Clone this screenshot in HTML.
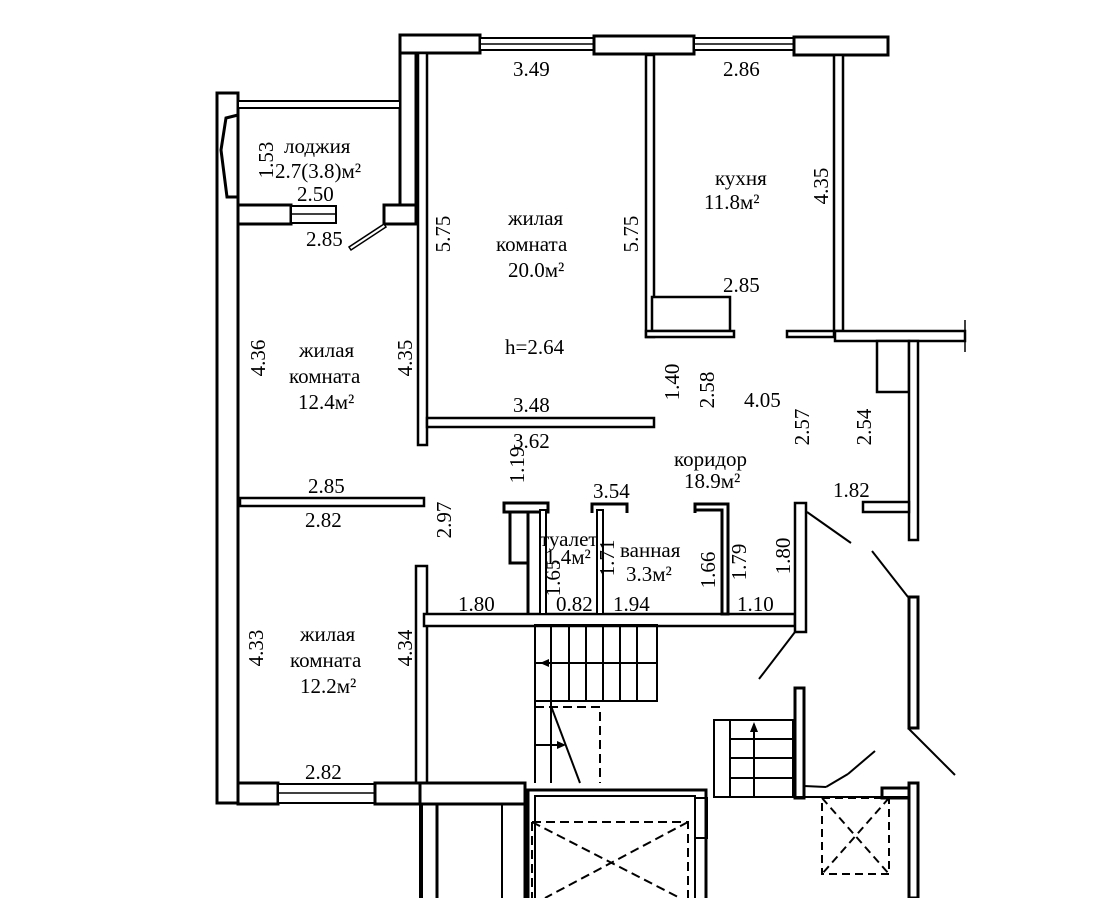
<!DOCTYPE html>
<html><head><meta charset="utf-8"><style>
html,body{margin:0;padding:0;background:#fff;}
svg{display:block}
text{font-family:"Liberation Serif","DejaVu Serif",serif;font-size:21px;fill:#000;}
</style></head><body>
<svg width="1118" height="898" viewBox="0 0 1118 898" xmlns="http://www.w3.org/2000/svg">
<g fill="#fff" stroke="#000" stroke-width="3">
<rect x="400" y="35" width="80" height="18"/>
<rect x="480" y="38" width="114" height="12" stroke-width="2"/>
<line x1="480" y1="44" x2="594" y2="44" stroke-width="1.5"/>
<rect x="594" y="36" width="100" height="18"/>
<rect x="694" y="38" width="100" height="12" stroke-width="2"/>
<line x1="694" y1="44" x2="794" y2="44" stroke-width="1.5"/>
<rect x="794" y="37" width="94" height="18"/>
<rect x="400" y="53" width="16" height="152"/>
<rect x="384" y="205" width="32" height="19"/>
<rect x="418" y="53" width="9" height="392" stroke-width="2.5"/>
<rect x="217" y="93" width="21" height="710"/>
<rect x="238" y="101" width="162" height="7" stroke-width="2"/>
<polygon points="238,115 226,118 221,150 227,197 238,197" stroke-width="3"/>
<rect x="238" y="205" width="53" height="19"/>
<rect x="291" y="206" width="45" height="17" stroke-width="2"/>
<line x1="291" y1="214" x2="336" y2="214" stroke-width="1.5"/>
<polygon points="384,224 349,247 351,250 386,227" stroke-width="1.5"/>
<rect x="646" y="55" width="8" height="282" stroke-width="2.5"/>
<rect x="834" y="55" width="9" height="276" stroke-width="2.5"/>
<rect x="652" y="297" width="78" height="34" stroke-width="2.5"/>
<rect x="646" y="331" width="88" height="6" stroke-width="2.5"/>
<rect x="787" y="331" width="47" height="6" stroke-width="2.5"/>
<rect x="835" y="331" width="130" height="10" stroke-width="2.5"/>
<rect x="877" y="341" width="32" height="51" stroke-width="2.5"/>
<rect x="909" y="341" width="9" height="199" stroke-width="2.5"/>
<rect x="863" y="502" width="46" height="10" stroke-width="2.5"/>
<rect x="427" y="418" width="227" height="9" stroke-width="2.5"/>
<rect x="240" y="498" width="184" height="8" stroke-width="2.5"/>
<rect x="416" y="566" width="11" height="217" stroke-width="2.5"/>
<rect x="424" y="614" width="371" height="12" stroke-width="2.5"/>
<rect x="795" y="503" width="11" height="129" stroke-width="2.5"/>
<rect x="504" y="503" width="44" height="9" />
<rect x="510" y="512" width="18" height="51" />
<line x1="528" y1="512" x2="528" y2="614"/>
<rect x="540" y="510" width="6" height="104" stroke-width="2"/>
<path d="M592 513 V504 H627 V513" fill="none"/>
<rect x="597" y="510" width="6" height="104" stroke-width="2"/>
<path d="M695 513 V504 H728 V614 H722 V510 H695" />
<rect x="909" y="597" width="9" height="131"/>
<rect x="795" y="688" width="9" height="110"/>
<rect x="909" y="783" width="9" height="115"/>
<rect x="882" y="788" width="27" height="10"/>
</g>
<g stroke="#000" stroke-width="2" fill="none">
<line x1="807" y1="512" x2="851" y2="543"/>
<line x1="872" y1="551" x2="908" y2="597"/>
<line x1="908" y1="728" x2="955" y2="775"/>
<line x1="795" y1="632" x2="759" y2="679"/>
<line x1="804" y1="786" x2="826" y2="787"/>
<line x1="826" y1="787" x2="848" y2="774"/>
<line x1="848" y1="774" x2="875" y2="751"/>
</g>
<g stroke="#000" stroke-width="2" fill="none">
<rect x="535" y="625" width="122" height="76"/>
<line x1="551" y1="625" x2="551" y2="783"/>
<line x1="569" y1="625" x2="569" y2="701"/>
<line x1="586" y1="625" x2="586" y2="701"/>
<line x1="603" y1="625" x2="603" y2="701"/>
<line x1="620" y1="625" x2="620" y2="701"/>
<line x1="637" y1="625" x2="637" y2="701"/>
<line x1="535" y1="663" x2="657" y2="663"/>
<line x1="535" y1="701" x2="535" y2="783"/>
<line x1="535" y1="745" x2="560" y2="745"/>
<line x1="551" y1="706" x2="580" y2="783"/>
<path d="M535 707 H600 V783" stroke-dasharray="9,5"/>
<rect x="714" y="720" width="79" height="77"/>
<line x1="730" y1="720" x2="730" y2="797"/>
<line x1="730" y1="739" x2="793" y2="739"/>
<line x1="730" y1="758" x2="793" y2="758"/>
<line x1="730" y1="778" x2="793" y2="778"/>
<line x1="754" y1="797" x2="754" y2="724"/>
<rect x="822" y="798" width="67" height="76" stroke-dasharray="8,5"/>
<line x1="822" y1="798" x2="889" y2="874" stroke-dasharray="8,5"/>
<line x1="889" y1="798" x2="822" y2="874" stroke-dasharray="8,5"/>
<rect x="528" y="790" width="178" height="120" stroke-width="3"/>
<rect x="535" y="796" width="160" height="110"/>
<line x1="795" y1="797" x2="909" y2="797"/>
<rect x="695" y="798" width="12" height="40" />
<path d="M532 822 H688 V898" stroke-dasharray="9,5"/>
<line x1="532" y1="822" x2="532" y2="898" stroke-dasharray="9,5"/>
<line x1="532" y1="822" x2="680" y2="898" stroke-dasharray="9,5"/>
<line x1="688" y1="822" x2="545" y2="898" stroke-dasharray="9,5"/>
<line x1="421" y1="805" x2="421" y2="898" stroke-width="4"/>
<line x1="437" y1="805" x2="437" y2="898" stroke-width="3"/>
<line x1="502" y1="805" x2="502" y2="898"/>
<line x1="525" y1="805" x2="525" y2="898" stroke-width="3"/>
<line x1="965" y1="320" x2="965" y2="352" stroke-width="1.5"/>
</g>
<g fill="#000">
<polygon points="540,663 549,659 549,667"/>
<polygon points="566,745 557,741 557,749"/>
<polygon points="754,722 750,732 758,732"/>
</g>
<g fill="#fff" stroke="#000" stroke-width="3">
<rect x="238" y="783" width="40" height="21"/>
<rect x="278" y="784" width="97" height="19" stroke-width="2"/>
<line x1="278" y1="793" x2="375" y2="793" stroke-width="1.5"/>
<rect x="375" y="783" width="45" height="21"/>
<rect x="420" y="783" width="105" height="21"/>
</g>
<text x="513" y="76">3.49</text>
<text x="723" y="76">2.86</text>
<text x="284" y="153">лоджия</text>
<text x="275" y="178">2.7(3.8)м²</text>
<text x="297" y="201">2.50</text>
<text x="306" y="246">2.85</text>
<text x="508" y="225">жилая</text>
<text x="496" y="251">комната</text>
<text x="508" y="277">20.0м²</text>
<text x="505" y="354">h=2.64</text>
<text x="715" y="185">кухня</text>
<text x="704" y="209">11.8м²</text>
<text x="723" y="292">2.85</text>
<text x="299" y="357">жилая</text>
<text x="289" y="383">комната</text>
<text x="298" y="409">12.4м²</text>
<text x="513" y="412">3.48</text>
<text x="513" y="448">3.62</text>
<text x="744" y="407">4.05</text>
<text x="674" y="466">коридор</text>
<text x="684" y="488">18.9м²</text>
<text x="833" y="497">1.82</text>
<text x="308" y="493">2.85</text>
<text x="305" y="527">2.82</text>
<text x="593" y="498">3.54</text>
<text x="540" y="546" font-size="18">туалет</text>
<text x="545" y="564" font-size="18">1.4м²</text>
<text x="620" y="557">ванная</text>
<text x="626" y="581">3.3м²</text>
<text x="458" y="611">1.80</text>
<text x="556" y="611" font-size="18">0.82</text>
<text x="613" y="611">1.94</text>
<text x="737" y="611">1.10</text>
<text x="300" y="641">жилая</text>
<text x="290" y="667">комната</text>
<text x="300" y="693">12.2м²</text>
<text x="305" y="779">2.82</text>
<g>
<text transform="translate(266,160) rotate(-90)" text-anchor="middle" dominant-baseline="central">1.53</text>
<text transform="translate(443,234) rotate(-90)" text-anchor="middle" dominant-baseline="central">5.75</text>
<text transform="translate(631,234) rotate(-90)" text-anchor="middle" dominant-baseline="central">5.75</text>
<text transform="translate(821,186) rotate(-90)" text-anchor="middle" dominant-baseline="central">4.35</text>
<text transform="translate(258,358) rotate(-90)" text-anchor="middle" dominant-baseline="central">4.36</text>
<text transform="translate(405,358) rotate(-90)" text-anchor="middle" dominant-baseline="central">4.35</text>
<text transform="translate(672,382) rotate(-90)" text-anchor="middle" dominant-baseline="central">1.40</text>
<text transform="translate(707,390) rotate(-90)" text-anchor="middle" dominant-baseline="central">2.58</text>
<text transform="translate(802,427) rotate(-90)" text-anchor="middle" dominant-baseline="central">2.57</text>
<text transform="translate(864,427) rotate(-90)" text-anchor="middle" dominant-baseline="central">2.54</text>
<text transform="translate(517,465) rotate(-90)" text-anchor="middle" dominant-baseline="central">1.19</text>
<text transform="translate(444,520) rotate(-90)" text-anchor="middle" dominant-baseline="central">2.97</text>
<text transform="translate(553,578) rotate(-90)" text-anchor="middle" dominant-baseline="central" font-size="18">1.65</text>
<text transform="translate(607,558) rotate(-90)" text-anchor="middle" dominant-baseline="central" font-size="18">1.71</text>
<text transform="translate(708,570) rotate(-90)" text-anchor="middle" dominant-baseline="central">1.66</text>
<text transform="translate(739,562) rotate(-90)" text-anchor="middle" dominant-baseline="central">1.79</text>
<text transform="translate(783,556) rotate(-90)" text-anchor="middle" dominant-baseline="central">1.80</text>
<text transform="translate(256,648) rotate(-90)" text-anchor="middle" dominant-baseline="central">4.33</text>
<text transform="translate(405,648) rotate(-90)" text-anchor="middle" dominant-baseline="central">4.34</text>
</g>
</svg>
</body></html>
